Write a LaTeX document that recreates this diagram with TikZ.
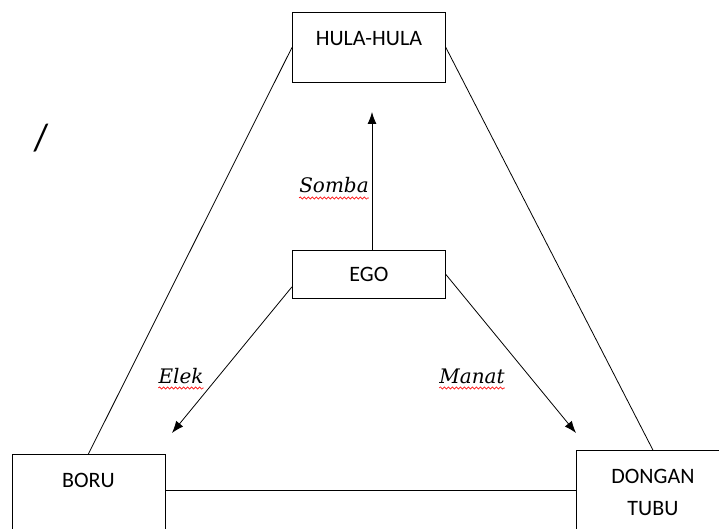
\documentclass[tikz,border=0pt]{standalone}
\usepackage{fontspec}
\setmainfont{Carlito}
\newfontfamily\lblfont{DejaVu Serif}
\usetikzlibrary{arrows.meta}
\usetikzlibrary{decorations.pathmorphing}
\tikzset{box/.style={rectangle, draw, line width=0.8pt, text width=153pt, align=center,
   inner sep=0pt, anchor=north west, font=\fontsize{22}{32}\selectfont}}
\tikzset{lbl/.style={inner sep=0pt, anchor=base, font=\lblfont\itshape\fontsize{20}{24}\selectfont}}
\tikzset{arr/.style={line width=0.8pt, -{Latex[length=12pt,width=9pt]}}}
\tikzset{link/.style={line width=0.8pt}}
\tikzset{wavy/.style={draw=red, line width=0.6pt, decorate,
   decoration={snake, amplitude=1.1pt, segment length=4pt}}}

\begin{document}
\begin{tikzpicture}[x=1pt, y=-1pt]

    \useasboundingbox (0,0) rectangle (719,529);
    \clip (0,0) rectangle (719,529);

    \node[box, text height=33pt, text depth=37pt] (hula) at (292,12) {HULA-HULA};
    \node[box, text height=31pt, text depth=17pt] (ego) at (292,250) {EGO};
    \node[box, text height=33pt, text depth=100pt] (boru) at (11.5,454) {BORU};
    \node[box, text height=33pt, text depth=100pt] (dongan) at (576,450) {DONGAN\\TUBU};

    \node[lbl] (somba) at (334,193) {Somba};
    \node[lbl] (elek) at (181,383) {Elek};
    \node[lbl] (manat) at (472,383) {Manat};

    \node[font=\fontsize{38}{38}\selectfont, inner sep=0pt] (slash) at (41,138) {/};

    \draw[link] (hula.west) -- (boru.north);
    \draw[link] (hula.east) -- (dongan.north);
    \coordinate (bd) at ([yshift=-36pt]boru.north east);
    \draw[link] (bd) -- (bd -| dongan.west);

    \coordinate (sombaend) at (372,112);
    \coordinate (elekend) at (172,433);
    \coordinate (manatend) at (576,433);
    \draw[arr] (ego.north -| sombaend) -- (sombaend);
    \draw[arr] ([yshift=12pt]ego.south west) -- (elekend);
    \draw[arr] (ego.east) -- (manatend);

    \draw[wavy] ([yshift=-5pt]somba.base west) -- ([yshift=-5pt]somba.base east);
    \draw[wavy] ([yshift=-5pt]elek.base west) -- ([yshift=-5pt]elek.base east);
    \draw[wavy] ([yshift=-5pt]manat.base west) -- ([yshift=-5pt]manat.base east);

  \end{tikzpicture}
\end{document}
